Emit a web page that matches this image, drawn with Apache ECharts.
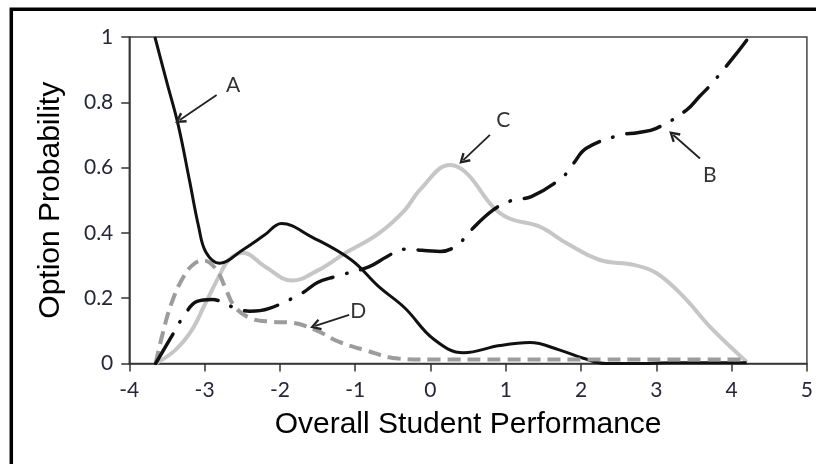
<!DOCTYPE html>
<html>
<head>
<meta charset="utf-8">
<script src="https://cdn.jsdelivr.net/npm/echarts@6/dist/echarts.min.js"></script>
<style>html,body{margin:0;padding:0;background:#fff;}#chart{width:816px;height:464px;}</style>
</head>
<body>
<div id="chart"></div>
<script>
// Curve A (black solid)
var A_x = [-3.66, -3.5, -3.35, -3.2, -3.08, -2.98, -2.8, -2.5, -2.2, -1.98, -1.58, -1.05, -0.69, -0.34, 0.04, 0.44, 0.92, 1.32, 1.72, 2.03, 2.34, 2.7, 3.2, 3.7, 4.2];
var A_y = [1.0, 0.86, 0.73, 0.56, 0.42, 0.34, 0.307, 0.347, 0.394, 0.429, 0.388, 0.317, 0.236, 0.17, 0.075, 0.033, 0.055, 0.064, 0.041, 0.016, 0.0, 0.0, 0.002, 0.002, 0.002];
// Curve B (black dash-dot)
var B_x = [-3.65, -3.4, -3.27, -3.1, -2.9, -2.64, -2.4, -2.15, -1.71, -1.5, -1.27, -0.82, -0.58, -0.36, 0.13, 0.36, 0.52, 0.83, 1.10, 1.34, 1.76, 1.90, 2.07, 2.52, 2.75, 3.0, 3.4, 3.57, 3.74, 4.05, 4.2];
var B_y = [0, 0.098, 0.148, 0.19, 0.196, 0.174, 0.16, 0.168, 0.215, 0.248, 0.266, 0.296, 0.327, 0.35, 0.343, 0.363, 0.404, 0.47, 0.501, 0.511, 0.572, 0.613, 0.659, 0.70, 0.707, 0.72, 0.776, 0.817, 0.858, 0.945, 0.99];
// Curve C (light gray solid)
var C_x = [-3.65, -3.39, -3.17, -2.99, -2.81, -2.68, -2.49, -2.2, -1.84, -1.49, -1.14, -0.69, -0.34, -0.14, 0.26, 0.48, 0.83, 1.05, 1.45, 1.81, 2.25, 2.7, 3.0, 3.36, 3.71, 4.2];
var C_y = [0, 0.041, 0.102, 0.184, 0.266, 0.317, 0.339, 0.297, 0.254, 0.286, 0.337, 0.398, 0.47, 0.532, 0.608, 0.583, 0.48, 0.444, 0.419, 0.368, 0.317, 0.302, 0.277, 0.205, 0.113, 0.005];
// Curve D (gray dashed)
var D_x = [-3.65, -3.57, -3.44, -3.28, -3.13, -3.0, -2.84, -2.73, -2.6, -2.38, -2.11, -1.84, -1.53, -1.22, -0.87, -0.43, 0, 1, 2, 3, 4.2];
var D_y = [0, 0.08, 0.184, 0.266, 0.307, 0.315, 0.286, 0.235, 0.174, 0.138, 0.128, 0.125, 0.103, 0.067, 0.041, 0.015, 0.012, 0.012, 0.012, 0.012, 0.012];

// Annotations (data coordinates)
var annotLabels = ['A', 'B', 'C', 'D'];
var annotLabelX = [-2.62, 3.71, 0.967, -0.96];
var annotLabelY = [0.853, 0.577, 0.746, 0.159];
var arrowFromX = [-2.84, 3.58, 0.79, -1.08];
var arrowFromY = [0.822, 0.628, 0.70, 0.149];
var arrowToX = [-3.33, 3.225, 0.436, -1.53];
var arrowToY = [0.746, 0.70, 0.623, 0.115];

var xTitle = 'Overall Student Performance';
var yTitle = 'Option Probability';

function pairs(xs, ys) { return xs.map(function (x, i) { return [x, ys[i]]; }); }

var chart = echarts.init(document.getElementById('chart'), null, { renderer: 'canvas' });

var arrowLines = annotLabels.map(function (n, i) {
  return [{ coord: [arrowFromX[i], arrowFromY[i]] }, { coord: [arrowToX[i], arrowToY[i]] }];
});
var labelPoints = annotLabels.map(function (n, i) {
  return { name: n, coord: [annotLabelX[i], annotLabelY[i]], value: n };
});

var labelFont = 'Lato, "Open Sans", sans-serif';
var tickColor = '#26263a';
var chevron = 'path://M5,0 L10,9 L8.2,10 L5,4 L1.8,10 L0,9 Z';

chart.setOption({
  animation: false,
  backgroundColor: '#fff',
  graphic: [{
    type: 'rect', silent: true,
    shape: { x: 11.3, y: 9.3, width: 900, height: 600 },
    style: { fill: 'none', stroke: '#000', lineWidth: 3.5 }
  }],
  grid: { left: 129.3, right: 8.5, top: 37, bottom: 100.5, show: true, borderColor: '#444', borderWidth: 1.5 },
  xAxis: {
    type: 'value', min: -4, max: 5, interval: 1,
    name: xTitle, nameLocation: 'middle', nameGap: 46,
    nameTextStyle: { fontFamily: '"Liberation Sans", Arial, sans-serif', fontSize: 30, color: '#000' },
    axisLine: { show: true, onZero: false, lineStyle: { color: '#333', width: 1.5 } },
    axisTick: { show: true, length: 8, lineStyle: { color: '#333', width: 1.5 } },
    axisLabel: { margin: 16, fontFamily: labelFont, fontSize: 21, color: tickColor },
    splitLine: { show: false }
  },
  yAxis: {
    type: 'value', min: 0, max: 1, interval: 0.2,
    name: yTitle, nameLocation: 'middle', nameGap: 64,
    nameTextStyle: { fontFamily: '"Liberation Sans", Arial, sans-serif', fontSize: 30, color: '#000' },
    axisLine: { show: true, onZero: false, lineStyle: { color: '#333', width: 1.5 } },
    axisTick: { show: true, length: 8, lineStyle: { color: '#333', width: 1.5 } },
    axisLabel: { margin: 16, fontFamily: labelFont, fontSize: 21, color: tickColor },
    splitLine: { show: false }
  },
  series: [
    {
      name: 'C', type: 'line', data: pairs(C_x, C_y), smooth: 0.4, showSymbol: false,
      lineStyle: { color: '#c6c6c6', width: 4 }
    },
    {
      name: 'A', type: 'line', data: pairs(A_x, A_y), smooth: 0.4, showSymbol: false,
      lineStyle: { color: '#111', width: 3 },
      markLine: {
        silent: true, symbol: ['none', chevron], symbolSize: [12, 11],
        label: { show: false },
        lineStyle: { color: '#222', width: 1.8, type: 'solid' },
        data: arrowLines
      },
      markPoint: {
        silent: true, symbol: 'circle', symbolSize: 24,
        itemStyle: { color: 'rgba(0,0,0,0)' },
        label: { show: true, position: 'inside', formatter: '{b}', fontFamily: labelFont, fontSize: 21, color: '#333' },
        data: labelPoints
      }
    },
    {
      name: 'D', type: 'line', data: pairs(D_x, D_y), smooth: 0.4, showSymbol: false,
      lineStyle: { color: '#9c9c9c', width: 4, type: [13, 7] }
    },
    {
      name: 'B', type: 'line', data: pairs(B_x, B_y), smooth: 0.4, showSymbol: false,
      lineStyle: { color: '#111', width: 3.5, type: [34, 14, 0.5, 14], cap: 'round' }
    }
  ]
});
</script>
</body>
</html>
